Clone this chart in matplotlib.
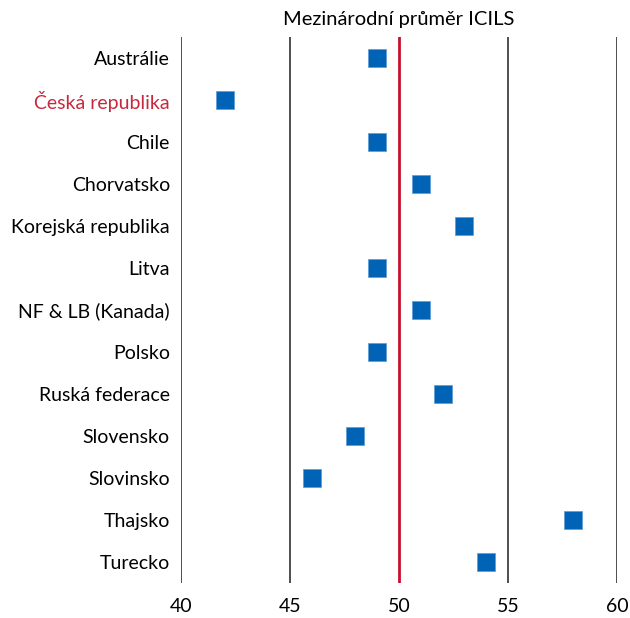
import matplotlib
matplotlib.use('Agg')
import matplotlib.pyplot as plt

plt.rcParams['font.family'] = ['Lato', 'DejaVu Sans']

countries = ['Austrálie', 'Česká republika', 'Chile', 'Chorvatsko', 'Korejská republika',
             'Litva', 'NF & LB (Kanada)', 'Polsko', 'Ruská federace', 'Slovensko',
             'Slovinsko', 'Thajsko', 'Turecko']
scores = [49, 42, 49, 51, 53, 49, 51, 49, 52, 48, 46, 58, 54]
ticks = [40, 45, 50, 55, 60]
icils_mean = 50

fig = plt.figure(figsize=(6.3, 6.18), dpi=100)
ax = fig.add_axes([181/630, 35/618, 436/630, 546/618])

y = list(range(len(countries)))
for t in ticks:
    if t != icils_mean:
        ax.axvline(t, color='#404040', lw=1.3, zorder=1)
ax.axvline(icils_mean, color='#C8102E', lw=2, zorder=2)

ax.scatter(scores, y, marker='s', s=150, color='#0063B5', edgecolors='#5A9BD5',
           linewidths=0.5, zorder=3)

ax.set_xlim(40, 60)
ax.set_ylim(len(countries) - 0.5, -0.5)
ax.set_xticks(ticks)
ax.set_yticks(y)
ax.set_yticklabels(countries)
ax.tick_params(axis='both', length=0, labelsize=14)
ax.tick_params(axis='x', pad=11)
ax.tick_params(axis='y', pad=8)
ax.get_yticklabels()[1].set_color('#C8283C')
for s in ax.spines.values():
    s.set_visible(False)

ax.text(icils_mean, -0.72, 'Mezinárodní průměr ICILS', ha='center', va='bottom',
        fontsize=14.5)

fig.savefig('out.png', dpi=100)
